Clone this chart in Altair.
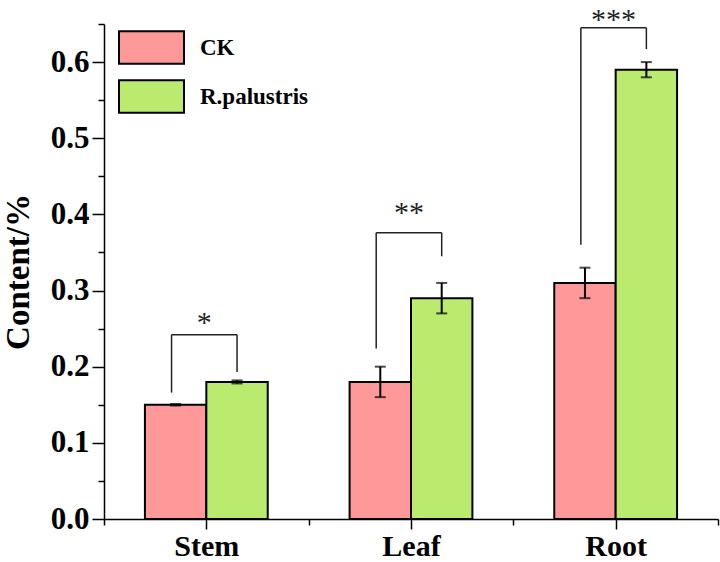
import altair as alt
import pandas as pd

# ---------------- data ----------------
groups = ["Stem", "Leaf", "Root"]
treatments = ["CK", "R.palustris"]
ck_mean = [0.15, 0.18, 0.31]
ck_err = [0.001, 0.02, 0.02]
rp_mean = [0.18, 0.29, 0.59]
rp_err = [0.002, 0.02, 0.01]
colors = ["#FF9999", "#BBEB6E"]

sig_labels = ["*", "**", "***"]
bracket_top = [0.242, 0.376, 0.645]
bracket_left_bottom = [0.166, 0.224, 0.36]
bracket_right_bottom = [0.193, 0.345, 0.617]
star_y = [0.245, 0.39, 0.644]

y_ticks = [round(i * 0.05, 2) for i in range(14)]
x_ticks = [0.5, 1, 1.5, 2, 2.5, 3, 3.5]

FONT = "Liberation Serif, Times New Roman, serif"
BAR_W = 0.3

# ---------------- tables ----------------
bar_rows = []
for i, g in enumerate(groups):
    c = i + 1
    bar_rows.append(dict(group=g, treatment=treatments[0], x0=c - BAR_W, x1=c,
                         xc=c - BAR_W / 2, mean=ck_mean[i],
                         lo=ck_mean[i] - ck_err[i], hi=ck_mean[i] + ck_err[i]))
    bar_rows.append(dict(group=g, treatment=treatments[1], x0=c, x1=c + BAR_W,
                         xc=c + BAR_W / 2, mean=rp_mean[i],
                         lo=rp_mean[i] - rp_err[i], hi=rp_mean[i] + rp_err[i]))
bars_df = pd.DataFrame(bar_rows)

cap_df = pd.concat([
    bars_df[["xc", "lo"]].rename(columns={"lo": "yv"}),
    bars_df[["xc", "hi"]].rename(columns={"hi": "yv"}),
])

br_rows = []
for i in range(len(groups)):
    c = i + 1
    xl, xr = c - 0.17, c + 0.15
    br_rows.append(dict(x=xl, x2=xl, y=bracket_left_bottom[i], y2=bracket_top[i]))
    br_rows.append(dict(x=xr, x2=xr, y=bracket_right_bottom[i], y2=bracket_top[i]))
    br_rows.append(dict(x=xl, x2=xr, y=bracket_top[i], y2=bracket_top[i]))
br_df = pd.DataFrame(br_rows)

star_df = pd.DataFrame(dict(x=[i + 1 - 0.01 for i in range(len(groups))],
                            y=star_y, label=sig_labels))

# ---------------- scales / axes ----------------
xscale = alt.Scale(domain=[0.5, 3.5], nice=False, zero=False)
yscale = alt.Scale(domain=[0, 0.65], nice=False, zero=False)

label_expr_x = " : ".join(
    [f"datum.value == {i + 1} ? '{g}'" for i, g in enumerate(groups)]) + " : ''"

x_axis = alt.Axis(
    values=x_ticks, labelExpr=label_expr_x, title=None,
    tickSize={"condition": {"test": "datum.value % 1 == 0", "value": 10}, "value": 6},
    labelFont=FONT, labelFontSize=30, labelFontWeight="bold", labelPadding=2,
    labelColor="black", domainColor="black", tickColor="black",
    domainWidth=1.5, tickWidth=1.5,
    labelOverlap=False, labelFlush=False, labelBound=False, grid=False,
)
y_axis = alt.Axis(
    values=y_ticks, title="Content/%",
    labelExpr="round(datum.value*100) % 10 == 0 ? format(datum.value, '.1f') : ''",
    tickSize={"condition": {"test": "round(datum.value*100) % 10 == 0", "value": 12}, "value": 6},
    labelFont=FONT, labelFontSize=31, labelFontWeight="bold", labelPadding=3,
    labelColor="black", domainColor="black", tickColor="black",
    domainWidth=1.5, tickWidth=1.5,
    titleFont=FONT, titleFontSize=33, titleFontWeight="bold", titlePadding=15,
    titleColor="black",
    labelOverlap=False, labelFlush=False, labelBound=False, grid=False,
)

bars = alt.Chart(bars_df).mark_bar(stroke="black", strokeWidth=2, opacity=1).encode(
    x=alt.X("x0:Q", scale=xscale, axis=x_axis),
    x2="x1:Q",
    y=alt.Y("mean:Q", scale=yscale, axis=y_axis),
    y2=alt.datum(0),
    color=alt.Color(
        "treatment:N",
        scale=alt.Scale(domain=treatments, range=colors),
        legend=alt.Legend(
            orient="none", legendX=30, legendY=6, title=None,
            symbolType="M-2,-1H2V1H-2Z", symbolSize=1056,
            symbolStrokeColor="black", symbolStrokeWidth=2, symbolOpacity=1,
            labelFont=FONT, labelFontSize=23, labelFontWeight="bold",
            labelColor="black",
            labelOffset=31, rowPadding=8, padding=0,
        ),
    ),
)

err = alt.Chart(bars_df).mark_rule(color="black", strokeWidth=2).encode(
    x=alt.X("xc:Q", scale=xscale, axis=x_axis),
    y=alt.Y("lo:Q", scale=yscale, axis=y_axis),
    y2="hi:Q",
)

caps = alt.Chart(cap_df).mark_tick(color="black", orient="horizontal", size=11,
                                   thickness=2).encode(
    x=alt.X("xc:Q", scale=xscale, axis=x_axis),
    y=alt.Y("yv:Q", scale=yscale, axis=y_axis),
)

brackets = alt.Chart(br_df).mark_rule(color="#222222", strokeWidth=1.5).encode(
    x=alt.X("x:Q", scale=xscale, axis=x_axis),
    x2="x2:Q",
    y=alt.Y("y:Q", scale=yscale, axis=y_axis),
    y2="y2:Q",
)

stars = alt.Chart(star_df).mark_text(font=FONT, fontSize=30, baseline="alphabetic",
                                     align="center", color="#222222").encode(
    x=alt.X("x:Q", scale=xscale, axis=x_axis),
    y=alt.Y("y:Q", scale=yscale, axis=y_axis),
    text="label:N",
)

chart = alt.layer(bars, err, caps, brackets, stars).properties(
    width=614, height=495,
    padding={"left": 104, "top": 24, "right": 2, "bottom": 43},
    autosize=alt.AutoSizeParams(type="none"),
    background="white",
).configure(font=FONT).configure_view(stroke=None).configure_axis(
    labelFont=FONT, titleFont=FONT,
)

chart.save("out.html", embed_options={"renderer": "svg", "actions": False})
